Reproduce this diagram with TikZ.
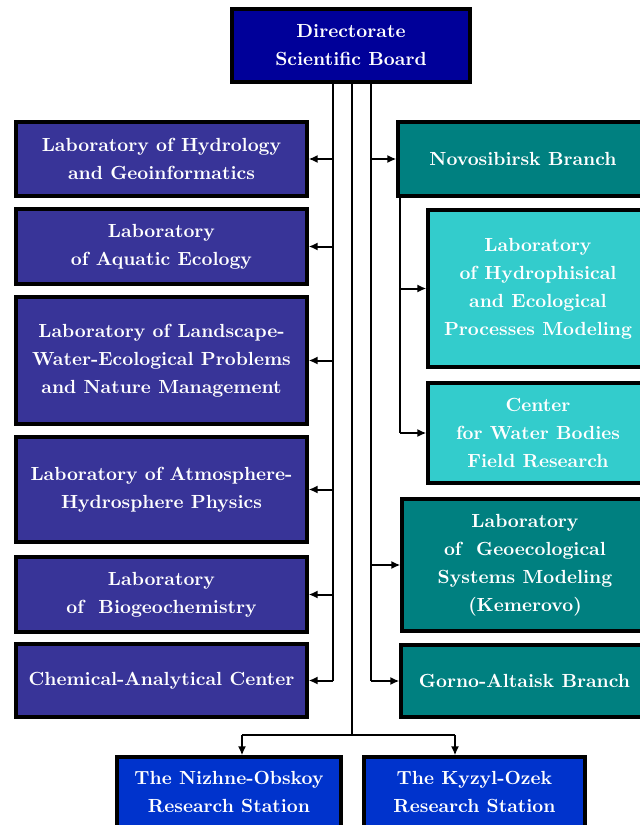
\documentclass[tikz,border=0pt]{standalone}
\usetikzlibrary{arrows.meta}
\definecolor{dirblue}{RGB}{0,0,153}
\definecolor{labblue}{RGB}{56,52,152}
\definecolor{brteal}{RGB}{0,128,128}
\definecolor{subteal}{RGB}{51,204,204}
\definecolor{stblue}{RGB}{0,51,204}
\begin{document}
\begin{tikzpicture}[
      x=0.5pt, y=-0.5pt,
      line width = 1pt,
      B/.style={draw, line width=1.6pt, text=white, align=center,
        font=\fontsize{9.5}{14}\selectfont\bfseries, inner sep=0pt},
      D/.style={B, fill=dirblue},
      L/.style={B, fill=labblue, minimum width=145.5pt},
      R/.style={B, fill=brteal},
      S/.style={B, fill=subteal, minimum width=110pt},
      T/.style={B, fill=stblue, minimum height=35pt},
      arr/.style={-{Latex[length=4.5pt,width=4pt]}}]
    \useasboundingbox (0,0) rectangle (640,825);
    \clip (0,0) rectangle (640,825);
    % top
    \node[D, minimum width=119pt, minimum height=36.5pt] (dir) at (351,45.5)
      {Directorate\\Scientific Board};
    % left column
    \node[L, minimum height=37pt] (hydro) at (161.5,159)
      {Laboratory of Hydrology\\and Geoinformatics};
    \node[L, minimum height=37.5pt] (aqua) at (161.5,246.5)
      {Laboratory\\of Aquatic Ecology};
    \node[L, minimum height=63.5pt] (land) at (161.5,360.5)
      {Laboratory of Landscape-\\Water-Ecological Problems\\and Nature Management};
    \node[L, minimum height=52.5pt] (atmo) at (161.5,489.5)
      {Laboratory of Atmosphere-\\Hydrosphere Physics};
    \node[L, minimum height=37.5pt] (bio) at (161.5,594.5)
      {Laboratory\\of\ \ Biogeochemistry};
    \node[L, minimum height=36.5pt] (chem) at (161.5,680.5)
      {Chemical-Analytical Center};
    % right column
    \node[R, minimum width=125pt, minimum height=37pt] (novo) at (523,159)
      {Novosibirsk Branch};
    \node[S, minimum height=78.5pt] (hyph) at (538,288.5)
      {Laboratory\\of Hydrophisical\\and Ecological\\Processes Modeling};
    \node[S, minimum height=50pt] (field) at (538,433)
      {Center\\for Water Bodies\\Field Research};
    \node[R, minimum width=123pt, minimum height=66pt] (geo) at (525,565)
      {Laboratory\\of\ \ Geoecological\\Systems Modeling\\(Kemerovo)};
    \node[R, minimum width=123.5pt, minimum height=36pt] (gorno) at (524.5,681)
      {Gorno-Altaisk Branch};
    % stations
    \node[T, minimum width=112pt] (nizh) at (229,792)
      {The Nizhne-Obskoy\\Research Station};
    \node[T, minimum width=110.5pt] (kyz) at (474.5,792)
      {The Kyzyl-Ozek\\Research Station};
    % trunks
    \coordinate (tl) at (333,0);
    \coordinate (tm) at (352,735);
    \coordinate (tr) at (371,0);
    \coordinate (tn) at (400,0);
    \coordinate (sa) at (242,735);
    \coordinate (sb) at (455,735);
    \draw (dir.south -| tl) -- (tl |- chem.east);
    \draw (dir.south -| tm) -- (tm);
    \draw (dir.south -| tr) -- (tr |- gorno.west);
    \draw (novo.south -| tn) -- (tn |- field.west);
    \draw (sa) -- (sb);
    \foreach \n in {hydro,aqua,land,atmo,bio,chem}
      \draw[arr] (tl |- \n.east) -- (\n.east);
    \foreach \n in {novo,geo,gorno}
      \draw[arr] (tr |- \n.west) -- (\n.west);
    \foreach \n in {hyph,field}
      \draw[arr] (tn |- \n.west) -- (\n.west);
    \draw[arr] (sa) -- (sa |- nizh.north);
    \draw[arr] (sb) -- (sb |- kyz.north);
    \end{tikzpicture}
\end{document}
